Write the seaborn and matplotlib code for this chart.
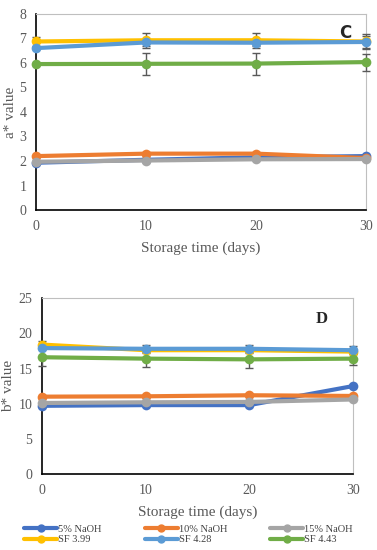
import matplotlib
matplotlib.use('Agg')
import matplotlib.pyplot as plt
import seaborn as sns
import pandas as pd

days = [0, 10, 20, 30]
series = ['5% NaOH', '10% NaOH', '15% NaOH', 'SF 3.99', 'SF 4.28', 'SF 4.43']
colors = ['#4472C4', '#ED7D31', '#A5A5A5', '#FFC000', '#5B9BD5', '#70AD47']

# a* value (panel C)
a_5 = [1.93, 2.05, 2.15, 2.2]
a_10 = [2.2, 2.3, 2.3, 2.12]
a_15 = [1.97, 2.02, 2.07, 2.08]
a_399 = [6.87, 6.92, 6.92, 6.87]
a_428 = [6.6, 6.83, 6.82, 6.85]
a_443 = [5.95, 5.96, 5.97, 6.03]
a_err_399 = [0.2, 0.3, 0.3, 0.3]
a_err_428 = [0.05, 0.15, 0.15, 0.25]
a_err_443 = [0.05, 0.45, 0.45, 0.35]

# b* value (panel D)
b_5 = [9.7, 9.8, 9.8, 12.5]
b_10 = [11.0, 11.05, 11.2, 11.1]
b_15 = [10.1, 10.2, 10.25, 10.6]
b_399 = [18.4, 17.6, 17.6, 17.4]
b_428 = [17.9, 17.8, 17.8, 17.6]
b_443 = [16.6, 16.4, 16.3, 16.4]
b_err_399 = [0.5, 0.3, 0.3, 0.3]
b_err_428 = [0.2, 0.6, 0.6, 0.6]
b_err_443 = [1.3, 1.2, 1.2, 0.9]

sns.set_style('white')
plt.rcParams['font.family'] = ['Liberation Serif', 'DejaVu Serif']

def long_df(values):
    rows = []
    for name, vals in zip(series, values):
        for d, v in zip(days, vals):
            rows.append({'day': d, 'value': v, 'series': name})
    return pd.DataFrame(rows)

def draw(ax, values, errs, ymax, ystep, ylabel):
    df = long_df(values)
    # error bars first (drawn under the lines)
    for name, vals, err in errs:
        ax.errorbar(days, vals, yerr=err, fmt='none', ecolor='#595959',
                    elinewidth=1, capsize=3, capthick=1, zorder=1, clip_on=False)
    sns.lineplot(data=df, x='day', y='value', hue='series', hue_order=series,
                 palette=colors, marker='o', markersize=7, markeredgewidth=0,
                 linewidth=3, ax=ax, legend=False, zorder=2, clip_on=False)
    ax.set_xlim(0, 30)
    ax.set_ylim(0, ymax)
    ax.set_xticks(days)
    ax.set_yticks(range(0, ymax + 1, ystep))
    ax.tick_params(axis='both', labelsize=10, labelcolor='#595959', length=0, pad=7)
    ax.set_xlabel('Storage time (days)', fontsize=11, color='#595959', labelpad=6)
    ax.set_ylabel(ylabel, fontsize=11, color='#595959', labelpad=2)
    for side in ['top', 'right']:
        ax.spines[side].set_color('#BFBFBF')
        ax.spines[side].set_linewidth(0.8)
    for side in ['left', 'bottom']:
        ax.spines[side].set_color('black')
        ax.spines[side].set_linewidth(1.2)
    for s in ax.spines.values():
        s.set_zorder(0)

fig = plt.figure(figsize=(3.77, 5.5), dpi=100)
ax1 = fig.add_axes([0.0955, 0.618, 0.8755, 0.357])
ax2 = fig.add_axes([0.111, 0.138, 0.825, 0.32])

draw(ax1, [a_5, a_10, a_15, a_399, a_428, a_443],
     [('SF 3.99', a_399, a_err_399), ('SF 4.28', a_428, a_err_428), ('SF 4.43', a_443, a_err_443)],
     8, 1, 'a* value')
draw(ax2, [b_5, b_10, b_15, b_399, b_428, b_443],
     [('SF 3.99', b_399, b_err_399), ('SF 4.28', b_428, b_err_428), ('SF 4.43', b_443, b_err_443)],
     25, 5, 'b* value')

ax1.text(0.955, 0.9, 'C', transform=ax1.transAxes, fontsize=12, fontweight='bold',
         family='DejaVu Sans', ha='right', va='center')
ax2.text(0.92, 0.88, 'D', transform=ax2.transAxes, fontsize=12, fontweight='bold',
         ha='right', va='center')

handles = [plt.Line2D([], [], color=c, linewidth=3, marker='o', markersize=5) for c in colors]
order = [0, 3, 1, 4, 2, 5]
fig.legend([handles[i] for i in order], [series[i] for i in order], ncol=3,
           loc='lower center', bbox_to_anchor=(0.5, -0.007), frameon=False,
           fontsize=7.5, handlelength=3.2, handletextpad=0.1, columnspacing=4.1,
           labelspacing=0.1, labelcolor='#404040')

fig.savefig('out.png', dpi=100)
plt.close(fig)
